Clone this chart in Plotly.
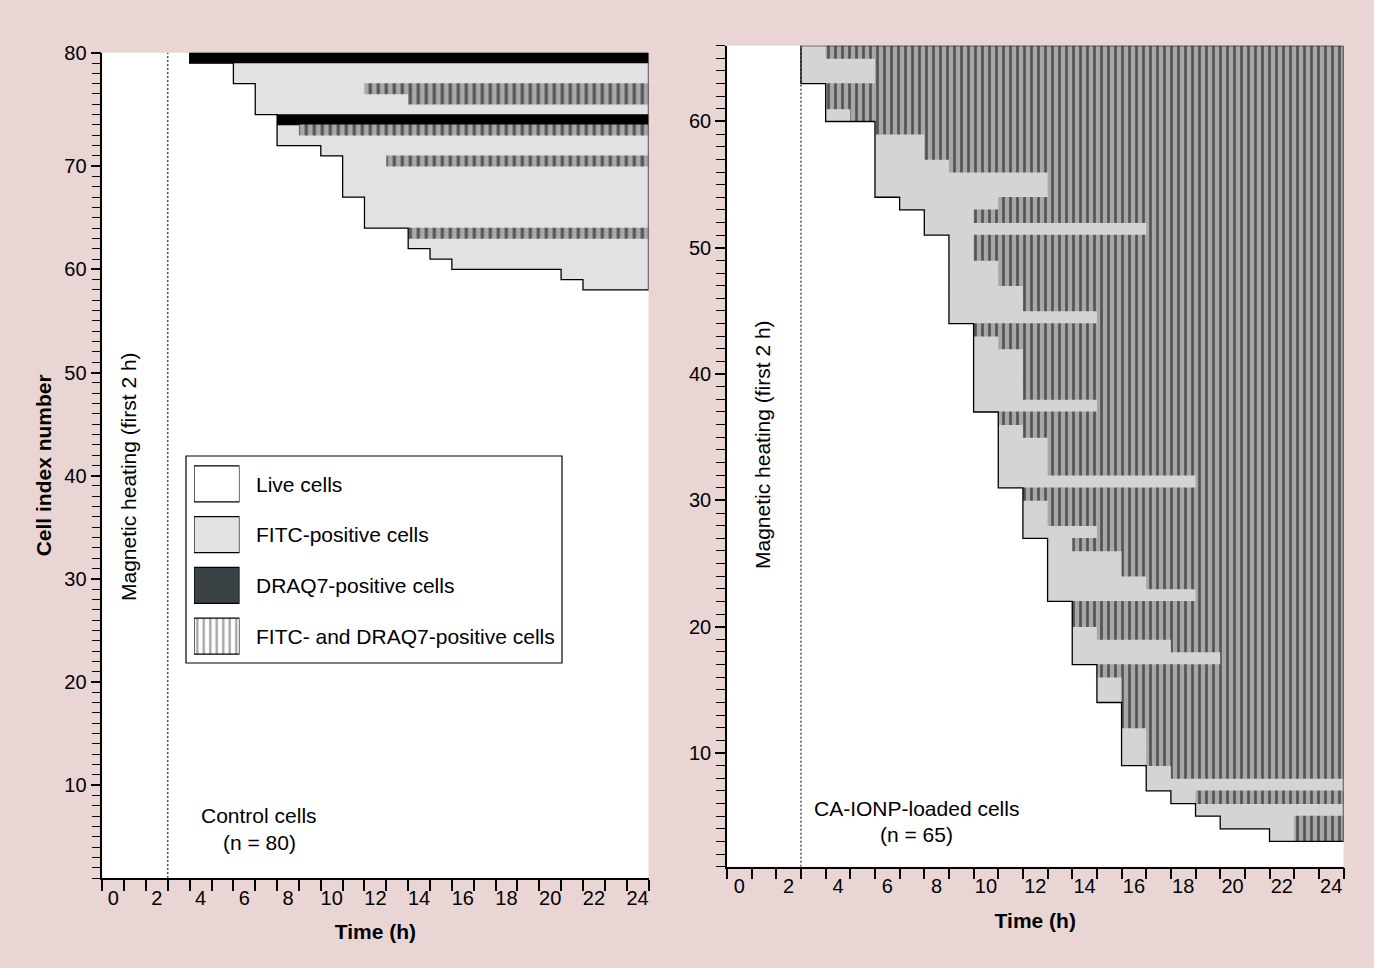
import plotly.graph_objects as go

W, H = 1374, 968
PINK = "#E9D6D4"
FONT = "Liberation Sans, Arial, Helvetica, sans-serif"

# ---------------- data ----------------
time_ticks = list(range(0, 25, 2))
time_labels = [str(h) for h in time_ticks]
# the top label of the control panel sits at the top of the axis, as in the figure
ctrl_y_tickvals = [10, 20, 30, 40, 50, 60, 70, 81]
ctrl_y_ticktext = ["10", "20", "30", "40", "50", "60", "70", "80"]
ionp_y_tickvals = [10, 20, 30, 40, 50, 60]
ionp_y_ticktext = ["10", "20", "30", "40", "50", "60"]

# Control cells (n = 80): only affected cells listed, top to bottom
ctrl_n = 80
ctrl_cells = list(range(80, 57, -1))
ctrl_fitc = [None, 6, 6, 7, 7, 7, None, 8, 8, 10, 11, 11, 11, 11, 12, 12, 12, 14, 14, 15, 16, 21, 22]
ctrl_draq7 = [4, None, None, None, None, None, 8, None, None, None, None, None, None, None, None,
              None, None, None, None, None, None, None, None]
ctrl_both = [None, None, None, 12, 14, None, None, 9, None, None, 13, None, None, None, None,
             None, None, 14, None, None, None, None, None]

# CA-IONP-loaded cells (n = 65): affected cells, top to bottom
ionp_n = 65
ionp_cells = list(range(65, 2, -1))
ionp_fitc = [3, 3, 3, 4, 4, 4, 6, 6, 6, 6, 6, 6, 7, 8, 8, 9, 9, 9, 9, 9, 9, 9,
             10, 10, 10, 10, 10, 10, 10, 11, 11, 11, 11, 11, 11, 12, 12, 12, 12,
             13, 13, 13, 13, 13, 14, 14, 14, 14, 14, 15, 15, 15, 16, 16, 16, 16, 16,
             17, 17, 18, 19, 20, 22]
ionp_both = [4, 6, 6, 4, 4, 5, 6, 8, 8, 9, 13, 13, 11, 10, 17, 10, 10, 11, 11, 12, 12, 15,
             10, 11, 12, 12, 12, 12, 15, 11, 12, 13, 13, 13, 19, 12, 13, 13, 15,
             14, 16, 16, 17, 19, 14, 14, 15, 18, 20, 15, 16, 16, 16, 16, 17, 17, 17,
             18, None, 19, None, 23, 23]

legend_labels = ["Live cells", "FITC-positive cells", "DRAQ7-positive cells",
                 "FITC- and DRAQ7-positive cells"]

END = 24.5  # end of observation (right edge of last hourly bin)

# ---------------- layout constants (pixels) ----------------
L_X0, L_X1, L_YB, L_YT = 102.3, 648.5, 878.0, 52.7
R_X0, R_X1, R_YB, R_YT = 727.0, 1343.5, 866.7, 45.7


def xd(a, b):
    return [a / W, b / W]


def yd(bottom, top):
    return [1 - bottom / H, 1 - top / H]


fig = go.Figure()


def bars(cells, starts, xa, ya, color, pattern=None, width=1.06):
    ys, xs, bs = [], [], []
    for c, s in zip(cells, starts):
        if s is None:
            continue
        ys.append(c + 0.5)
        bs.append(s - 0.5)
        xs.append(END - (s - 0.5))
    marker = dict(color=color, line=dict(width=0))
    if pattern:
        marker["pattern"] = pattern
    fig.add_trace(go.Bar(orientation="h", y=ys, x=xs, base=bs, width=width,
                         marker=marker, xaxis=xa, yaxis=ya, hoverinfo="skip"))


def outline(cells, starts_lists, xa, ya):
    onset = []
    for vals in zip(*starts_lists):
        v = [s for s in vals if s is not None]
        onset.append(min(v))
    top = cells[0] + 1
    xs = [END, onset[0] - 0.5]
    ys = [top, top]
    for c, s in zip(cells, onset):
        xs += [s - 0.5, s - 0.5]
        ys += [c + 1, c]
    xs += [END, END]
    ys += [cells[-1], top]
    fig.add_trace(go.Scatter(x=xs, y=ys, mode="lines", line=dict(color="black", width=1.3),
                             xaxis=xa, yaxis=ya, hoverinfo="skip"))


def dashed(xa, ya, ytop):
    fig.add_trace(go.Scatter(x=[2.5, 2.5], y=[1, ytop], mode="lines",
                             line=dict(color="black", width=1, dash="2px,2px"),
                             xaxis=xa, yaxis=ya, hoverinfo="skip"))


# ---- left panel ----
dashed("x", "y", ctrl_n + 1)
bars(ctrl_cells, ctrl_fitc, "x", "y", "#E1E2E4")
bars(ctrl_cells, ctrl_draq7, "x", "y", "#000000")
bars(ctrl_cells, ctrl_both, "x", "y", "#A9A9AB",
     pattern=dict(shape="|", fgcolor="black", size=8, solidity=0.4, fillmode="overlay"))
outline(ctrl_cells, [ctrl_fitc, ctrl_draq7, ctrl_both], "x", "y")

# ---- right panel ----
dashed("x2", "y2", ionp_n + 1)
bars(ionp_cells, ionp_fitc, "x2", "y2", "#D3D4D6")
bars(ionp_cells, ionp_both, "x2", "y2", "#A7A7A9",
     pattern=dict(shape="|", fgcolor="black", size=7, solidity=0.38, fillmode="overlay"))
outline(ionp_cells, [ionp_fitc, ionp_both], "x2", "y2")

# ---- legend keys (own small axes) ----
fig.add_trace(go.Bar(orientation="h", y=list(range(len(legend_labels))),
                     x=[1] * len(legend_labels), base=[0] * len(legend_labels), width=0.71,
                     marker=dict(color=["white", "#E2E3E5", "#3A4245", "white"],
                                 line=dict(color="black", width=1.2),
                                 pattern=dict(shape=["", "", "", "|"], fgcolor="black",
                                              size=6.5, solidity=0.35, fillmode="overlay")),
                     xaxis="x3", yaxis="y3", hoverinfo="skip"))

axis_common = dict(showgrid=False, zeroline=False, showline=True, linecolor="black",
                   linewidth=1.5, fixedrange=True, automargin=False,
                   tickfont=dict(size=20, color="black"))

xaxis_common = dict(axis_common, range=[-0.5, 24.5], tickmode="array", tickvals=time_ticks,
                    ticktext=time_labels, ticks="outside", ticklen=1,
                    tickcolor="rgba(0,0,0,0)",
                    minor=dict(tickmode="array", tickvals=[h - 0.5 for h in range(26)],
                               ticks="outside", ticklen=11, tickcolor="black", tickwidth=1.5,
                               showgrid=False),
                    title=dict(text="<b>Time (h)</b>", font=dict(size=21), standoff=17))

yaxis_common = dict(axis_common, ticks="outside", ticklen=10, tickwidth=1.5, tickcolor="black",
                    tickmode="array",
                    minor=dict(tickmode="linear", tick0=0, dtick=1, ticks="outside", ticklen=9,
                               tickcolor="black", tickwidth=1.3, showgrid=False))

fig.update_layout(
    width=W, height=H, margin=dict(l=0, r=0, t=0, b=0),
    paper_bgcolor=PINK, plot_bgcolor="white", showlegend=False, barmode="overlay",
    font=dict(family=FONT, size=20, color="black"),
    xaxis=dict(xaxis_common, domain=xd(L_X0, L_X1), anchor="y"),
    yaxis=dict(yaxis_common, domain=yd(L_YB, L_YT), anchor="x", range=[1, ctrl_n + 1],
               tickvals=ctrl_y_tickvals, ticktext=ctrl_y_ticktext,
               title=dict(text="<b>Cell index number</b>", font=dict(size=21), standoff=7)),
    xaxis2=dict(xaxis_common, domain=xd(R_X0, R_X1), anchor="y2"),
    yaxis2=dict(yaxis_common, domain=yd(R_YB, R_YT), anchor="x2", range=[1, ionp_n + 1],
                tickvals=ionp_y_tickvals, ticktext=ionp_y_ticktext),
    xaxis3=dict(domain=xd(194, 239.5), anchor="y3", range=[0, 1], visible=False, fixedrange=True),
    yaxis3=dict(domain=yd(661.5, 458.6), anchor="x3", range=[3.5, -0.5], visible=False,
                fixedrange=True),
)

# legend frame
fig.add_shape(type="rect", xref="paper", yref="paper", x0=186 / W, x1=562 / W,
              y0=1 - 663 / H, y1=1 - 456 / H, line=dict(color="black", width=1.2),
              fillcolor="rgba(0,0,0,0)", layer="above")

ann = []
key_centers = [484, 534.5, 585.3, 636.2]
for lab, yc in zip(legend_labels, key_centers):
    ann.append(dict(x=254 / W, y=1 - yc / H, text=lab, xanchor="left", yanchor="middle"))
ann += [
    dict(x=128 / W, y=1 - 477 / H, text="Magnetic heating (first 2 h)", textangle=-90,
         xanchor="center", yanchor="middle"),
    dict(x=762 / W, y=1 - 445 / H, text="Magnetic heating (first 2 h)", textangle=-90,
         xanchor="center", yanchor="middle"),
    dict(x=259 / W, y=1 - 815 / H, text="Control cells", xanchor="center", yanchor="middle"),
    dict(x=259 / W, y=1 - 842 / H, text="(n = 80)", xanchor="center", yanchor="middle"),
    dict(x=916 / W, y=1 - 808 / H, text="CA-IONP-loaded cells", xanchor="center", yanchor="middle"),
    dict(x=916 / W, y=1 - 834 / H, text="(n = 65)", xanchor="center", yanchor="middle"),
]
for a in ann:
    a.update(xref="paper", yref="paper", showarrow=False, font=dict(size=21, color="black"))
fig.update_layout(annotations=ann)

fig.write_html("out.html")
